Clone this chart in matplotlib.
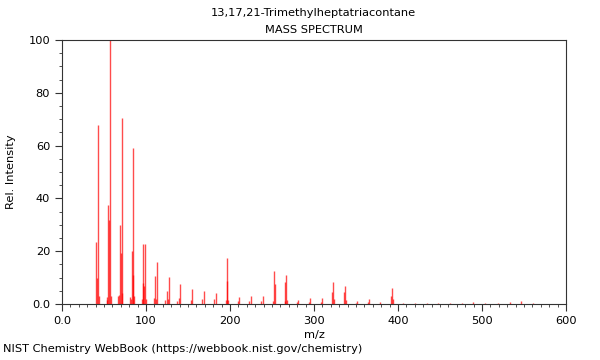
import matplotlib
matplotlib.use("Agg")
from matplotlib import pyplot as plt
from matplotlib.ticker import MultipleLocator, FuncFormatter

# peaks (m/z, relative intensity)
mz = [41, 42, 43, 44, 53, 54, 55, 56, 57, 58,
      67, 68, 69, 70, 71, 72, 81, 82, 83, 84, 85, 86,
      95, 96, 97, 98, 99, 100, 109, 111, 112, 113,
      123, 125, 126, 127, 137, 139, 141, 153, 155,
      167, 169, 181, 183, 195, 196, 197, 198, 209, 211,
      223, 225, 237, 239, 251, 252, 253, 265, 266, 267, 268,
      280, 281, 294, 295, 308, 309, 322, 323, 324, 336, 337, 338,
      350, 351, 364, 365, 379, 392, 393, 394, 406, 420, 434,
      448, 462, 476, 489, 504, 519, 533, 547, 561]
intensity = [23.6, 9.8, 67.8, 3.0, 2.7, 1.5, 37.5, 31.8, 100.0, 3.0,
             3.0, 3.5, 30.0, 19.4, 70.6, 4.0, 2.8, 2.0, 20.2, 11.0, 59.0, 3.0,
             2.0, 7.8, 22.6, 7.0, 22.6, 2.0, 2.4, 10.6, 2.0, 15.8,
             1.5, 4.9, 2.0, 10.1, 1.0, 2.3, 7.6, 1.5, 5.8,
             1.8, 4.8, 1.8, 4.1, 1.5, 17.3, 8.8, 1.5, 1.2, 2.8,
             1.2, 3.0, 1.2, 3.0, 1.0, 12.5, 7.6, 1.0, 8.5, 11.0, 1.5,
             0.8, 1.5, 0.8, 2.1, 0.8, 2.1, 4.7, 8.5, 2.0, 4.7, 6.8, 1.5,
             0.5, 1.0, 0.8, 1.8, 0.6, 3.0, 5.9, 2.0, 0.5, 0.4, 0.3,
             0.3, 0.3, 0.3, 0.8, 0.3, 0.4, 0.7, 1.1, 0.3]

title = "13,17,21-Trimethylheptatriacontane"
subtitle = "MASS SPECTRUM"
footer = "NIST Chemistry WebBook (https://webbook.nist.gov/chemistry)"

plt.rcParams['font.family'] = ['DejaVu Sans']
fig = plt.figure(figsize=(6, 3.6), dpi=100)
ax = fig.add_axes([0.1033, 0.1556, 0.84, 0.7333])

ax.vlines(mz, 0, intensity, color='#ff0000', linewidth=1.0, alpha=0.7)

ax.set_xlim(0, 600)
ax.set_ylim(0, 100)
ax.xaxis.set_major_locator(MultipleLocator(100))
ax.xaxis.set_minor_locator(MultipleLocator(10))
ax.yaxis.set_major_locator(MultipleLocator(20))
ax.yaxis.set_minor_locator(MultipleLocator(5))
fmt = FuncFormatter(lambda v, p: '0.0' if v == 0 else f'{v:g}')
ax.xaxis.set_major_formatter(fmt)
ax.yaxis.set_major_formatter(fmt)
ax.tick_params(which='major', length=5, width=0.8, labelsize=8.2, color='#333333')
ax.tick_params(which='minor', length=2.5, width=0.6, color='#333333')
for s in ax.spines.values():
    s.set_color('#333333')
    s.set_linewidth(0.8)

ax.set_xlabel("m/z", fontsize=8.2, labelpad=3)
ax.set_ylabel("Rel. Intensity", fontsize=8.2, labelpad=9)

fig.text(0.5225, 0.963, title, ha='center', va='center', fontsize=8.2)
fig.text(0.5225, 0.916, subtitle, ha='center', va='center', fontsize=8.2)
fig.text(0.005, 0.018, footer, ha='left', va='bottom', fontsize=8.2)

fig.savefig("out.png", dpi=100)
